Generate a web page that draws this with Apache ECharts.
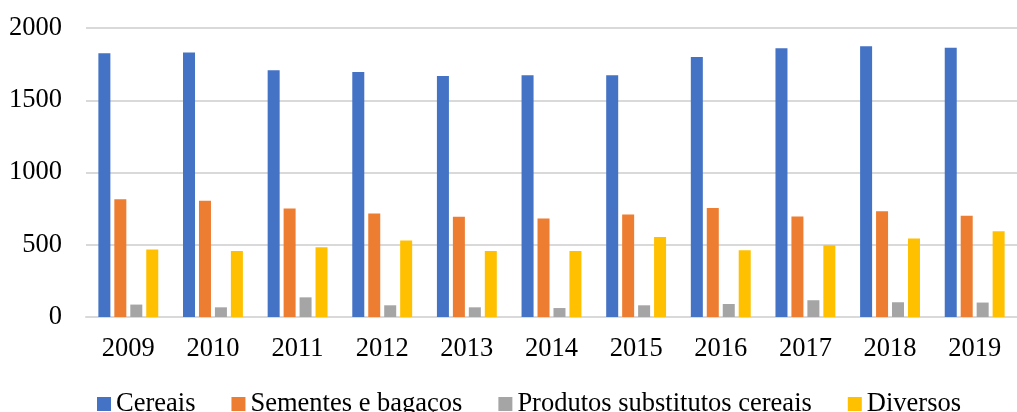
<!DOCTYPE html>
<html>
<head>
  <meta charset="utf-8">
  <title>ECharts</title>
  <script src="https://cdn.jsdelivr.net/npm/echarts@6/dist/echarts.min.js"></script>
</head>
<body style="margin:0">
<div id="main" style="width: 1017px;height:412px;"></div>

<script type="text/javascript">
  // dados
  var anos = ['2009', '2010', '2011', '2012', '2013', '2014', '2015', '2016', '2017', '2018', '2019'];
  var cereais = [1825, 1830, 1707, 1696, 1668, 1673, 1673, 1800, 1860, 1874, 1864];
  var sementes = [815, 804, 751, 716, 693, 682, 709, 755, 696, 732, 700];
  var substitutos = [86, 67, 136, 81, 67, 62, 81, 90, 116, 102, 100];
  var diversos = [467, 457, 483, 529, 457, 457, 554, 462, 497, 543, 594];

  var font = 'Liberation Serif';

  function serie(name, data, color) {
    return {
      name: name,
      type: 'bar',
      data: data,
      barWidth: 12,
      barGap: '33%',
      itemStyle: {color: color}
    };
  }

  let myChart = echarts.init(document.getElementById('main'));
  let option = {
    animation: false,
    textStyle: {fontFamily: font},
    grid: {
      left: 86,
      top: 28,
      width: 945,
      bottom: 95,
      containLabel: false
    },
    legend: {
      left: 92,
      top: 384,
      itemWidth: 14,
      itemHeight: 14,
      itemGap: 36,
      icon: 'rect',
      textStyle: {fontFamily: font, fontSize: 26.5, color: '#000', lineHeight: 30}
    },
    xAxis: {
      type: 'category',
      data: anos,
      axisTick: {show: false},
      axisLine: {lineStyle: {color: '#d9d9d9', width: 2}},
      axisLabel: {fontFamily: font, fontSize: 26.5, color: '#000', margin: 19}
    },
    yAxis: {
      type: 'value',
      min: 0,
      max: 2000,
      interval: 500,
      axisLine: {show: false},
      axisTick: {show: false},
      splitLine: {lineStyle: {color: '#d9d9d9', width: 2}},
      axisLabel: {
        fontFamily: font, fontSize: 26.5, color: '#000', margin: 24,
        formatter: function (v) { return String(v); }
      }
    },
    series: [
      serie('Cereais', cereais, '#4472C4'),
      serie('Sementes e bagaços', sementes, '#ED7D31'),
      serie('Produtos substitutos cereais', substitutos, '#A5A5A5'),
      serie('Diversos', diversos, '#FFC000')
    ]
  };
  myChart.setOption(option);
</script>
</body>
</html>
